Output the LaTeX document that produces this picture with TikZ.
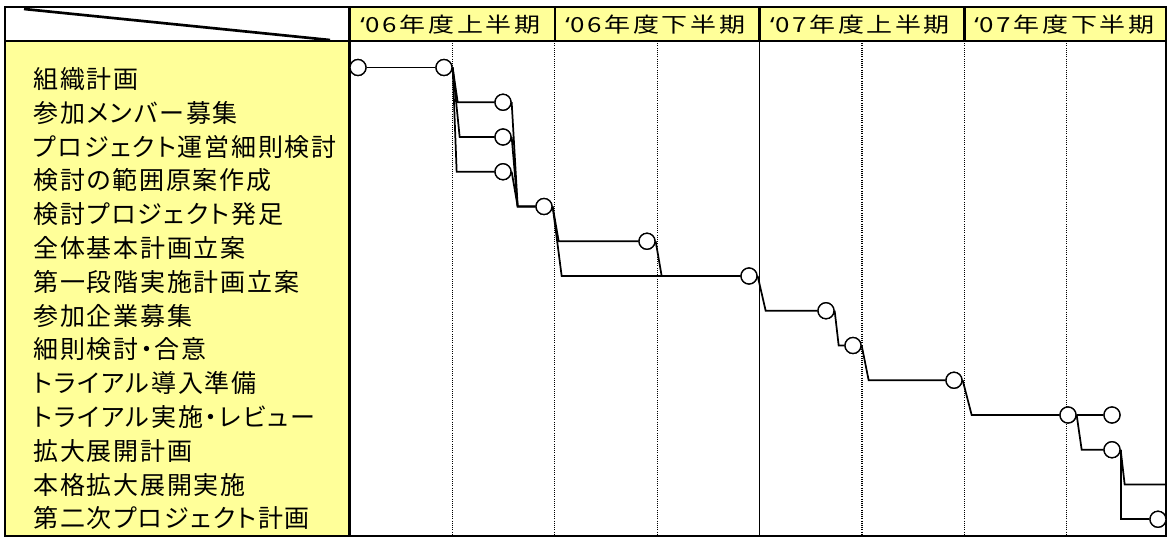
\documentclass[tikz,border=0pt]{standalone}
\usepackage{fontspec}
\usepackage{graphicx}
\newfontfamily\jprow[CharacterWidth=AlternateProportional,LetterSpace=7]{Noto Sans CJK JP}
\newfontfamily\jphead[CharacterWidth=AlternateProportional,LetterSpace=10]{Noto Sans CJK JP}
\newfontfamily\latquote{Noto Sans}
\newcommand{\hq}{{\latquote ‘}\kern0.5pt}
\usetikzlibrary{calc}
\definecolor{cellyellow}{HTML}{FFFF99}
\begin{document}
\begin{tikzpicture}[x=0.75pt,y=-0.75pt,
  rowlabel/.style={anchor=west,inner sep=0pt,font=\jprow\fontsize{18.75pt}{18.75pt}\selectfont,text height=16.5pt,text depth=2.25pt},
  headlabel/.style={anchor=center,inner sep=0pt,font=\jphead\fontsize{15.6pt}{15.6pt}\selectfont,text height=13.8pt,text depth=1.8pt},
  milestone/.style={circle,draw=black,fill=white,line width=1pt,minimum size=12pt,inner sep=0pt},
  link/.style={draw=black,line width=1.3pt},
  gridborder/.style={draw=black,line width=1.9pt},
  dotgrid/.style={draw=black,line width=0.8pt,dash pattern=on 0.75pt off 0.9pt},
  yeardiv/.style={draw=black,line width=1.1pt}]
\useasboundingbox (0,0) rectangle (1168,537);
\fill[white] (0,0) rectangle (1168,537);
% yellow areas
\fill[cellyellow] (5,41) rectangle (349.5,536);
\fill[cellyellow] (349.5,7) rectangle (1166,41);
% grid lines in data area
\foreach \k in {1,2,3,5,6,7} {
  \draw[dotgrid] ({350+102.4*\k},41) -- ({350+102.4*\k},536);
}
\draw[yeardiv] (759.6,41) -- (759.6,536);
% borders
\draw[gridborder] (5,7) rectangle (1166,536);
\draw[gridborder] (5,41) -- (1166,41);
\draw[gridborder] (349.5,7) -- (349.5,536);
\foreach \k in {2,4,6} {
  \draw[gridborder] ({350+102.4*\k},7) -- ({350+102.4*\k},41);
}
% diagonal in corner cell
\draw[line width=2pt] (24,9) -- (330,40);
% header labels
\node[headlabel] (h1) at (450.4,24) {\scalebox{1.25}[1]{\hq 06年度上半期}};
\node[headlabel] (h2) at (655.2,24) {\scalebox{1.25}[1]{\hq 06年度下半期}};
\node[headlabel] (h3) at (860.0,24) {\scalebox{1.25}[1]{\hq 07年度上半期}};
\node[headlabel] (h4) at (1064.4,24) {\scalebox{1.25}[1]{\hq 07年度下半期}};
% row labels
\node[rowlabel] (t1) at (33,79.0) {組織計画};
\node[rowlabel] (t2) at (33,112.8) {参加メンバー募集};
\node[rowlabel] (t3) at (33,146.6) {プロジェクト運営細則検討};
\node[rowlabel] (t4) at (33,180.4) {検討の範囲原案作成};
\node[rowlabel] (t5) at (33,214.2) {検討プロジェクト発足};
\node[rowlabel] (t6) at (33,248.0) {全体基本計画立案};
\node[rowlabel] (t7) at (33,281.8) {第一段階実施計画立案};
\node[rowlabel] (t8) at (33,315.6) {参加企業募集};
\node[rowlabel] (t9) at (33,349.4) {細則検討・合意};
\node[rowlabel] (t10) at (33,383.2) {トライアル導入準備};
\node[rowlabel] (t11) at (33,417.0) {トライアル実施・レビュー};
\node[rowlabel] (t12) at (33,450.8) {拡大展開計画};
\node[rowlabel] (t13) at (33,484.6) {本格拡大展開実施};
\node[rowlabel] (t14) at (33,518.4) {第二次プロジェクト計画};
% milestones
\node[milestone] (c1) at (358,67.5) {};
\node[milestone] (c2) at (444,67.5) {};
\node[milestone] (c3) at (503,102.25) {};
\node[milestone] (c4) at (503,137) {};
\node[milestone] (c5) at (503,171.75) {};
\node[milestone] (c6) at (544,206.5) {};
\node[milestone] (c7) at (647,241.25) {};
\node[milestone] (c8) at (749,276) {};
\node[milestone] (c9) at (826,310.75) {};
\node[milestone] (c10) at (853,345.5) {};
\node[milestone] (c11) at (954,380.25) {};
\node[milestone] (c12) at (1068,415) {};
\node[milestone] (c13) at (1112,415) {};
\node[milestone] (c14) at (1112,449.75) {};
\node[milestone] (c15) at (1158,519.25) {};
\coordinate (e13) at (1166,484.5);
% connectors
\draw[link] (c1.east) -- (c2.west);
\draw[link] (c2.east) -- ($(c2.east |- c3.west)+(5,0)$) -- (c3.west);
\draw[link] (c2.east) -- ($(c2.east |- c4.west)+(7,0)$) -- (c4.west);
\draw[link] (c2.east) -- ($(c2.east |- c5.west)+(4,0)$) -- (c5.west);
\draw[link] (c3.east) -- ($(c3.east |- c6.west)+(6,0)$) -- (c6.west);
\draw[link] (c4.east) -- ($(c4.east |- c6.west)+(6,0)$) -- (c6.west);
\draw[link] (c5.east) -- ($(c5.east |- c6.west)+(6,0)$) -- (c6.west);
\draw[link] (c6.east) -- ($(c6.east |- c7.west)+(6,0)$) -- (c7.west);
\draw[link] (c6.east) -- ($(c6.east |- c8.west)+(9,0)$) -- (c8.west);
\draw[link] (c7.east) -- ($(c7.east |- c8.west)+(6,0)$) -- (c8.west);
\draw[link] (c8.east) -- ($(c8.east |- c9.west)+(8,0)$) -- (c9.west);
\draw[link] (c9.east) -- ($(c9.east |- c10.west)+(4,0)$) -- (c10.west);
\draw[link] (c10.east) -- ($(c10.east |- c11.west)+(7,0)$) -- (c11.west);
\draw[link] (c11.east) -- ($(c11.east |- c12.west)+(9,0)$) -- (c12.west);
\draw[link] (c12.east) -- (c13.west);
\draw[link] (c12.east) -- ($(c12.east |- c14.west)+(5,0)$) -- (c14.west);
\draw[link] (c14.east) -- ($(c14.east |- e13)+(4,0)$) -- (e13);
\draw[link] (c14.east) -- ($(c14.east |- c15.west)+(0,0)$) -- (c15.west);
% redraw milestones on top
\foreach \n in {c1,c2,c3,c4,c5,c6,c7,c8,c9,c10,c11,c12,c13,c14,c15} {
  \draw[black,fill=white,line width=1pt] (\n) circle (8);
}
\end{tikzpicture}
\end{document}
